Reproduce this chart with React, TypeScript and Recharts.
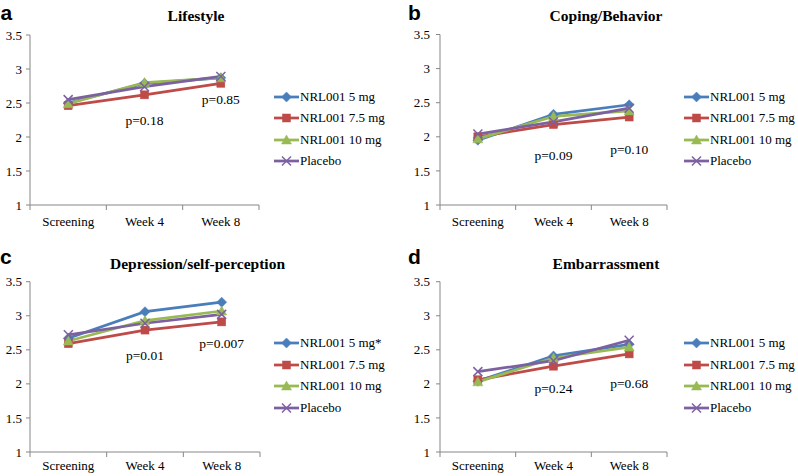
import React from 'react';
import { LineChart, Line, XAxis, YAxis, ReferenceDot, Legend } from 'recharts';

// ---- data ----
const categories = ['Screening', 'Week 4', 'Week 8'];
const seriesNames = ['NRL001 5 mg', 'NRL001 7.5 mg', 'NRL001 10 mg', 'Placebo'];
const seriesNamesDep = ['NRL001 5 mg*', 'NRL001 7.5 mg', 'NRL001 10 mg', 'Placebo'];
const yTicks = [1, 1.5, 2, 2.5, 3, 3.5];

const lifestyle5 = [2.5, 2.79, 2.87];
const lifestyle75 = [2.46, 2.62, 2.79];
const lifestyle10 = [2.49, 2.8, 2.87];
const lifestylePlacebo = [2.55, 2.74, 2.89];
const lifestyleP = ['p=0.18', 'p=0.85'];
const lifestylePY = [2.25, 2.56];

const coping5 = [1.95, 2.33, 2.47];
const coping75 = [2.0, 2.18, 2.29];
const coping10 = [1.97, 2.3, 2.38];
const copingPlacebo = [2.04, 2.22, 2.42];
const copingP = ['p=0.09', 'p=0.10'];
const copingPY = [1.73, 1.82];

const depression5 = [2.67, 3.06, 3.2];
const depression75 = [2.59, 2.79, 2.91];
const depression10 = [2.63, 2.93, 3.07];
const depressionPlacebo = [2.72, 2.89, 3.02];
const depressionP = ['p=0.01', 'p=0.007'];
const depressionPY = [2.42, 2.6];

const embarrass5 = [2.04, 2.41, 2.58];
const embarrass75 = [2.06, 2.26, 2.44];
const embarrass10 = [2.03, 2.38, 2.54];
const embarrassPlacebo = [2.18, 2.34, 2.64];
const embarrassP = ['p=0.24', 'p=0.68'];
const embarrassPY = [1.94, 2.01];

const pCategoryIndex = [1, 2];

// ---- styles ----
const COLORS = ['#4A7EBB', '#BE4B48', '#98B954', '#7D60A0'];
const SHAPES = ['diamond', 'square', 'triangle', 'x'];
const AXIS = '#868686';
const SERIF = '"Liberation Serif", "Times New Roman", serif';
const SANS = '"Liberation Sans", Arial, sans-serif';

const Marker = ({ cx, cy, shape, color }: any) => {
  if (cx == null || cy == null) return null;
  if (shape === 'diamond') {
    const r = 5;
    return <polygon points={`${cx},${cy - r} ${cx + r},${cy} ${cx},${cy + r} ${cx - r},${cy}`} fill={color} stroke={color} strokeWidth={0.5} />;
  }
  if (shape === 'square') {
    return <rect x={cx - 4} y={cy - 4} width={8} height={8} fill={color} stroke={color} strokeWidth={0.5} />;
  }
  if (shape === 'triangle') {
    return <polygon points={`${cx},${cy - 5} ${cx + 5},${cy + 4} ${cx - 5},${cy + 4}`} fill={color} stroke={color} strokeWidth={0.5} />;
  }
  const r = 4.5;
  return (
    <g>
      <line x1={cx - r} y1={cy - r} x2={cx + r} y2={cy + r} stroke={color} strokeWidth={1.5} />
      <line x1={cx - r} y1={cy + r} x2={cx + r} y2={cy - r} stroke={color} strokeWidth={1.5} />
    </g>
  );
};

const XTick = (props: any) => {
  const { x, y, payload, gap } = props;
  const v = payload.value;
  if (Number.isInteger(v)) {
    return <line x1={x} x2={x} y1={y - gap - 5} y2={y - gap} stroke={AXIS} strokeWidth={1} />;
  }
  return (
    <text x={x} y={y} dy="0.71em" textAnchor="middle" fill="#000" fontSize={13} fontFamily={SERIF}>
      {categories[Math.floor(v)]}
    </text>
  );
};

const LegendBox = ({ names }: any) => (
  <div style={{ fontFamily: SERIF, fontSize: 13, color: '#000' }}>
    {names.map((n: string, i: number) => (
      <div key={n} style={{ display: 'flex', alignItems: 'center', height: 21.5, whiteSpace: 'nowrap' }}>
        <svg width={25} height={12} style={{ display: 'block' }}>
          <line x1={0} x2={25} y1={6} y2={6} stroke={COLORS[i]} strokeWidth={2.75} />
          <Marker cx={12.5} cy={6} shape={SHAPES[i]} color={COLORS[i]} />
        </svg>
        <span style={{ marginLeft: 1 }}>{n}</span>
      </div>
    ))}
  </div>
);

const panels = [
  {
    key: 'a', title: 'Lifestyle', names: seriesNames,
    values: [lifestyle5, lifestyle75, lifestyle10, lifestylePlacebo], pText: lifestyleP, pY: lifestylePY,
    left: 0, top: 0, margin: { top: 35, right: 140, left: 0, bottom: 0 }, yWidth: 30, yGap: 4, xHeight: 33, xGap: 7,
    legend: { left: 274, top: 86 }, titleX: 196, titleY: 21, letterX: 0.5, letterY: 20,
  },
  {
    key: 'b', title: 'Coping/Behavior', names: seriesNames,
    values: [coping5, coping75, coping10, copingPlacebo], pText: copingP, pY: copingPY,
    left: 399, top: 0, margin: { top: 34.5, right: 131, left: 0, bottom: 0 }, yWidth: 41, yGap: 6, xHeight: 33, xGap: 7,
    legend: { left: 285, top: 86 }, titleX: 606, titleY: 21, letterX: 408, letterY: 20,
  },
  {
    key: 'c', title: 'Depression/self-perception', names: seriesNamesDep,
    values: [depression5, depression75, depression10, depressionPlacebo], pText: depressionP, pY: depressionPY,
    left: 0, top: 238, margin: { top: 43.7, right: 139, left: 0, bottom: 0 }, yWidth: 30, yGap: 4, xHeight: 24, xGap: 4,
    legend: { left: 274, top: 94.5 }, titleX: 197.5, titleY: 269, letterX: 0, letterY: 264,
  },
  {
    key: 'd', title: 'Embarrassment', names: seriesNames,
    values: [embarrass5, embarrass75, embarrass10, embarrassPlacebo], pText: embarrassP, pY: embarrassPY,
    left: 399, top: 238, margin: { top: 43.7, right: 131, left: 0, bottom: 0 }, yWidth: 41, yGap: 6, xHeight: 24, xGap: 4,
    legend: { left: 285, top: 94.5 }, titleX: 606, titleY: 269, letterX: 408, letterY: 264,
  },
];

const Panel = ({ p }: any) => {
  const data = categories.map((c, i) => {
    const row: any = { cat: c, pos: i + 0.5 };
    p.values.forEach((arr: number[], s: number) => { row['s' + s] = arr[i]; });
    return row;
  });
  return (
    <div style={{ position: 'absolute', left: p.left, top: p.top }}>
      <LineChart width={399} height={238} data={data} margin={p.margin}>
        <XAxis
          type="number" dataKey="pos" domain={[0, 3]} ticks={[0, 0.5, 1, 1.5, 2, 2.5, 3]} interval={0}
          height={p.xHeight} tickSize={5} tickMargin={p.xGap} tickLine={false}
          axisLine={{ stroke: AXIS, strokeWidth: 1 }}
          tick={(tp: any) => <XTick {...tp} gap={p.xGap} />}
        />
        <YAxis
          type="number" domain={[1, 3.5]} ticks={yTicks} interval={0} width={p.yWidth}
          tickSize={4} tickMargin={p.yGap}
          axisLine={{ stroke: AXIS, strokeWidth: 1 }} tickLine={{ stroke: AXIS, strokeWidth: 1 }}
          tick={{ fill: '#000', fontSize: 13, fontFamily: SERIF }}
        />
        {p.values.map((_: number[], s: number) => (
          <Line
            key={s} type="linear" dataKey={'s' + s} name={p.names[s]} stroke={COLORS[s]} strokeWidth={2.75}
            isAnimationActive={false} activeDot={false}
            dot={(dp: any) => <Marker key={`${s}-${dp.index}`} cx={dp.cx} cy={dp.cy} shape={SHAPES[s]} color={COLORS[s]} />}
          />
        ))}
        {p.pText.map((t: string, i: number) => (
          <ReferenceDot
            key={t} x={pCategoryIndex[i] + 0.5} y={p.pY[i]} r={0} fill="none" stroke="none"
            label={{ value: t, position: 'center', fill: '#000', fontSize: 13.5, fontFamily: SERIF }}
          />
        ))}
        <Legend
          layout="vertical" align="center" verticalAlign="middle"
          wrapperStyle={{ left: p.legend.left, top: p.legend.top, width: 'auto' }}
          content={() => <LegendBox names={p.names} />}
        />
      </LineChart>
    </div>
  );
};

export default function App() {
  return (
    <div style={{ position: 'absolute', left: 0, top: 0, width: 798, height: 476, background: '#fff' }}>
      {panels.map((p) => <Panel key={p.key} p={p} />)}
      <svg width={798} height={476} style={{ position: 'absolute', left: 0, top: 0, pointerEvents: 'none' }}>
        {panels.map((p) => (
          <g key={p.key}>
            <text x={p.letterX} y={p.letterY} fontFamily={SANS} fontWeight="bold" fontSize={21} fill="#000">{p.key}</text>
            <text x={p.titleX} y={p.titleY} textAnchor="middle" fontFamily={SERIF} fontWeight="bold" fontSize={15.5} fill="#000">{p.title}</text>
          </g>
        ))}
      </svg>
    </div>
  );
}
